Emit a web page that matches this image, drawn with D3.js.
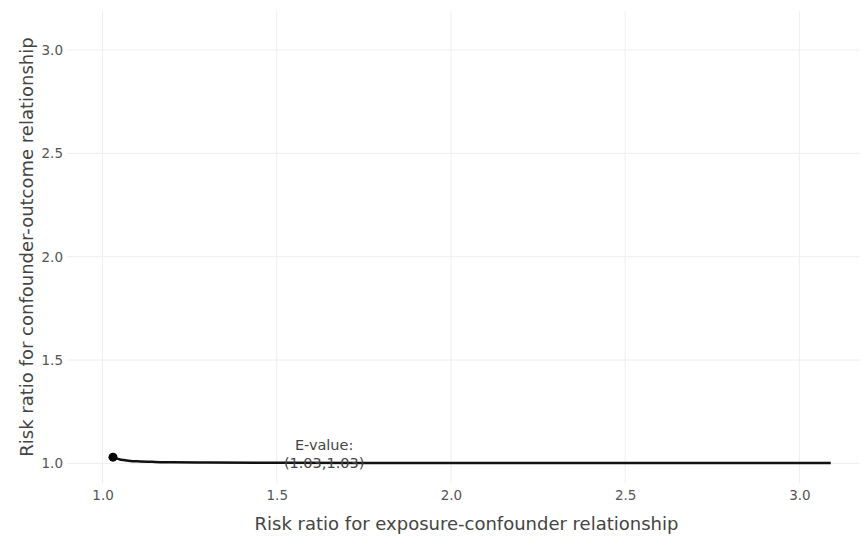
<!DOCTYPE html>
<html>
<head>
<meta charset="utf-8">
<script src="https://cdn.jsdelivr.net/npm/d3@7"></script>
<style>
  body { margin: 0; background: #fff; }
  svg { display: block; font-family: "DejaVu Sans", Verdana, sans-serif; }
</style>
</head>
<body>
<svg id="chart" width="861" height="538"></svg>
<script>
// ---- data ----
const curveX = [1.03, 1.04, 1.05, 1.06, 1.08, 1.10, 1.15, 1.20, 1.30, 1.50, 1.75, 2.00, 2.50, 3.09];
const curveY = [1.032, 1.024, 1.019, 1.016, 1.012, 1.010, 1.007, 1.005, 1.004, 1.003, 1.002, 1.002, 1.0015, 1.0013];
const evalPoint = [1.03, 1.03];
const evalLabel = ["E-value:", "(1.03,1.03)"];
const xTicks = [1.0, 1.5, 2.0, 2.5, 3.0];
const yTicks = [1.0, 1.5, 2.0, 2.5, 3.0];
const xTitle = "Risk ratio for exposure-confounder relationship";
const yTitle = "Risk ratio for confounder-outcome relationship";
const xDomain = [0.898, 3.174];
const yDomain = [0.905, 3.189];
const labelAt = [1.636, 1.0];

// ---- layout ----
const svg = d3.select("#chart");
const m = { left: 67, right: 1, top: 11, bottom: 55 };
const W = 861, H = 538;
const x = d3.scaleLinear().domain(xDomain).range([m.left, W - m.right]);
const y = d3.scaleLinear().domain(yDomain).range([H - m.bottom, m.top]);

// grid
const g = svg.append("g");
g.selectAll(".vg").data(xTicks).join("line")
  .attr("x1", d => x(d)).attr("x2", d => x(d))
  .attr("y1", m.top).attr("y2", H - m.bottom)
  .attr("stroke", "#eeeeee").attr("stroke-width", 1);
g.selectAll(".hg").data(yTicks).join("line")
  .attr("y1", d => y(d)).attr("y2", d => y(d))
  .attr("x1", m.left).attr("x2", W - m.right)
  .attr("stroke", "#eeeeee").attr("stroke-width", 1);

// axes (tick labels only)
const xAxis = d3.axisBottom(x).tickValues(xTicks).tickFormat(d3.format(".1f")).tickSize(0).tickPadding(7);
const yAxis = d3.axisLeft(y).tickValues(yTicks).tickFormat(d3.format(".1f")).tickSize(0).tickPadding(4);
const gx = svg.append("g").attr("transform", `translate(0,${H - m.bottom})`).call(xAxis);
const gy = svg.append("g").attr("transform", `translate(${m.left},0)`).call(yAxis);
[gx, gy].forEach(a => {
  a.select(".domain").remove();
  a.selectAll("text").attr("fill", "#555").style("font-size", "13.5px")
    .style("font-family", "'DejaVu Sans', Verdana, sans-serif");
});

// axis titles
svg.append("text")
  .attr("x", (m.left + W - m.right) / 2 + 3).attr("y", 530)
  .attr("text-anchor", "middle").attr("fill", "#444").style("font-size", "18px")
  .text(xTitle);
svg.append("text")
  .attr("transform", `translate(33,${(m.top + H - m.bottom) / 2}) rotate(-90)`)
  .attr("text-anchor", "middle").attr("fill", "#444").style("font-size", "18px")
  .text(yTitle);

// curve
const pts = curveX.map((d, i) => [d, curveY[i]]);
const line = d3.line().x(d => x(d[0])).y(d => y(d[1])).curve(d3.curveMonotoneX);
svg.append("path").datum(pts).attr("d", line)
  .attr("fill", "none").attr("stroke", "#111").attr("stroke-width", 2.5);

// E-value point
svg.append("circle").attr("cx", x(evalPoint[0])).attr("cy", y(evalPoint[1]))
  .attr("r", 4.5).attr("fill", "#000");

// label
const lab = svg.append("text").attr("text-anchor", "middle").attr("fill", "#444")
  .style("font-size", "14.5px");
evalLabel.forEach((t, i) => {
  lab.append("tspan").attr("x", x(labelAt[0])).attr("y", y(labelAt[1]) - 13 + i * 18).text(t);
});
</script>
</body>
</html>
